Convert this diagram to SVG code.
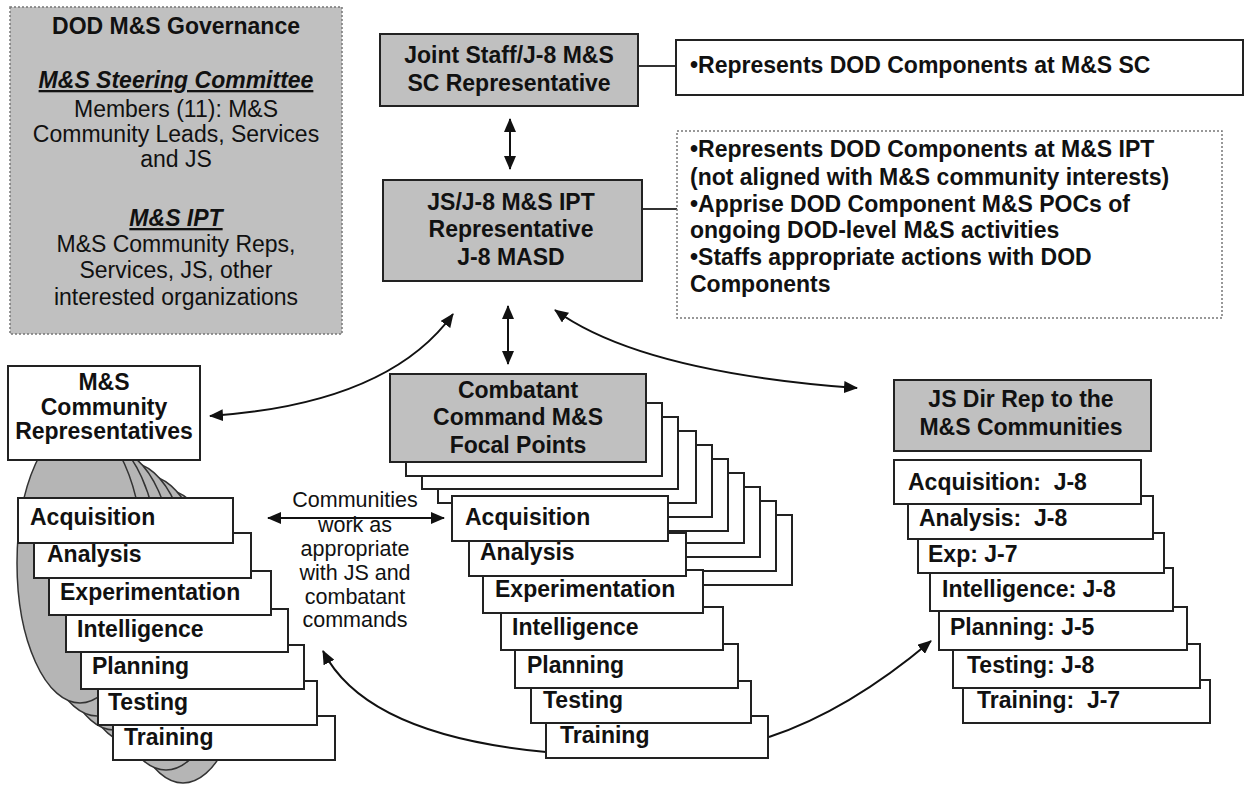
<svg xmlns="http://www.w3.org/2000/svg" width="1250" height="786" viewBox="0 0 1250 786">
<style>
text{font-family:"Liberation Sans",Arial,sans-serif;fill:#111}
.b{font-weight:bold;font-size:23px}
.r{font-size:23px}
.c{font-size:21.5px}
.m{text-anchor:middle}
.box{fill:#fff;stroke:#222;stroke-width:2}
.gbox{fill:#c0c0c0;stroke:#222;stroke-width:2}
.dot{stroke:#777;stroke-width:1.5;stroke-dasharray:2 2}
.ell{fill:#b5b5b5;stroke:#333;stroke-width:1.5}
.con{fill:none;stroke:#111;stroke-width:2}
.ln{fill:none;stroke:#333;stroke-width:2}
</style>
<defs>
<marker id="ah" markerWidth="14" markerHeight="12" refX="13" refY="6" orient="auto-start-reverse" markerUnits="userSpaceOnUse">
<path d="M0,0 L14,6 L0,12 Z" fill="#111"/>
</marker>
</defs>
<rect width="1250" height="786" fill="#fff"/>

<g id="governance">
<rect x="10" y="7" width="332" height="327" fill="#c0c0c0" class="dot"/>
<text class="b m" x="176" y="34">DOD M&amp;S Governance</text>
<text class="b m" x="176" y="88" font-style="italic" text-decoration="underline">M&amp;S Steering Committee</text>
<text class="r m" x="176" y="117">Members (11): M&amp;S</text>
<text class="r m" x="176" y="142">Community Leads, Services</text>
<text class="r m" x="176" y="167">and JS</text>
<text class="b m" x="176" y="226" font-style="italic" text-decoration="underline">M&amp;S IPT</text>
<text class="r m" x="176" y="252">M&amp;S Community Reps,</text>
<text class="r m" x="176" y="278">Services, JS, other</text>
<text class="r m" x="176" y="305">interested organizations</text>
</g>

<g id="connectors">
<line class="ln" x1="638" y1="66" x2="676" y2="66"/>
<line class="ln" x1="642" y1="209" x2="677" y2="209"/>
<line class="con" x1="510" y1="119" x2="510" y2="169" marker-start="url(#ah)" marker-end="url(#ah)"/>
<line class="con" x1="508" y1="306" x2="508" y2="364" marker-start="url(#ah)" marker-end="url(#ah)"/>
<path class="con" d="M210,416 Q388,404 453,314" marker-start="url(#ah)" marker-end="url(#ah)"/>
<path class="con" d="M555,310 Q640,372 857,388" marker-start="url(#ah)" marker-end="url(#ah)"/>
<line class="con" x1="268" y1="518" x2="444" y2="518" marker-start="url(#ah)" marker-end="url(#ah)"/>
<path class="con" d="M546,752 Q366,735 323,651" marker-end="url(#ah)"/>
<path class="con" d="M769,737 Q848,711 931,641" marker-end="url(#ah)"/>
</g>

<g id="sc-rep">
<rect class="gbox" x="380" y="34" width="258" height="72"/>
<text class="b m" x="509" y="63">Joint Staff/J-8 M&amp;S</text>
<text class="b m" x="509" y="91">SC Representative</text>
</g>

<g id="sc-note">
<rect class="box" x="676" y="40" width="567" height="55"/>
<text class="b" x="690" y="73">•Represents DOD Components at M&amp;S SC</text>
</g>

<g id="ipt-rep">
<rect class="gbox" x="383" y="180" width="259" height="101"/>
<text class="b m" x="511" y="210">JS/J-8 M&amp;S IPT</text>
<text class="b m" x="511" y="237">Representative</text>
<text class="b m" x="511" y="265">J-8 MASD</text>
</g>

<g id="ipt-note">
<rect x="677" y="131" width="545" height="187" fill="#fff" class="dot"/>
<text class="b" x="690" y="157">•Represents DOD Components at M&amp;S IPT</text>
<text class="b" x="690" y="185">(not aligned with M&amp;S community interests)</text>
<text class="b" x="690" y="212">•Apprise DOD Component M&amp;S POCs of</text>
<text class="b" x="690" y="238">ongoing DOD-level M&amp;S activities</text>
<text class="b" x="690" y="265">•Staffs appropriate actions with DOD</text>
<text class="b" x="690" y="292">Components</text>
</g>

<g id="community-blob">
<ellipse class="ell" cx="183" cy="643" rx="63" ry="140"/>
<ellipse class="ell" cx="166" cy="630" rx="63" ry="140"/>
<ellipse class="ell" cx="148" cy="616" rx="63" ry="140"/>
<ellipse class="ell" cx="131" cy="603" rx="63" ry="140"/>
<ellipse class="ell" cx="114" cy="590" rx="63" ry="140"/>
<ellipse class="ell" cx="97" cy="576" rx="63" ry="140"/>
<ellipse class="ell" cx="80" cy="563" rx="63" ry="140"/>
</g>

<g id="community-reps">
<rect class="box" x="8" y="366" width="192" height="94"/>
<text class="b m" x="104" y="390" font-size="22">M&amp;S</text>
<text class="b m" x="104" y="415" font-size="22">Community</text>
<text class="b m" x="104" y="439" font-size="22">Representatives</text>
</g>

<g id="left-training"><rect class="box" x="113" y="716" width="222" height="44"/><text class="b" x="124" y="745">Training</text></g>
<g id="left-testing"><rect class="box" x="98" y="681" width="219" height="44"/><text class="b" x="108" y="710">Testing</text></g>
<g id="left-planning"><rect class="box" x="81" y="645" width="223" height="44"/><text class="b" x="92" y="674">Planning</text></g>
<g id="left-intelligence"><rect class="box" x="66" y="609" width="222" height="43"/><text class="b" x="77" y="637">Intelligence</text></g>
<g id="left-experimentation"><rect class="box" x="49" y="571" width="222" height="44"/><text class="b" x="60" y="600">Experimentation</text></g>
<g id="left-analysis"><rect class="box" x="34" y="533" width="217" height="45"/><text class="b" x="47" y="562">Analysis</text></g>
<g id="left-acquisition"><rect class="box" x="18" y="498" width="215" height="45"/><text class="b" x="30" y="525">Acquisition</text></g>

<g id="communities-note">
<text class="c m" x="355" y="507">Communities</text>
<text class="c m" x="355" y="532">work as</text>
<text class="c m" x="355" y="556">appropriate</text>
<text class="c m" x="355" y="580">with JS and</text>
<text class="c m" x="355" y="604">combatant</text>
<text class="c m" x="355" y="627">commands</text>
</g>

<g id="cocom-stack">
<rect class="box" x="534" y="515" width="258" height="70"/>
<rect class="box" x="518" y="501" width="258" height="70"/>
<rect class="box" x="502" y="487" width="258" height="70"/>
<rect class="box" x="486" y="473" width="258" height="70"/>
<rect class="box" x="470" y="459" width="258" height="72"/>
<rect class="box" x="454" y="445" width="258" height="72"/>
<rect class="box" x="438" y="431" width="258" height="72"/>
<rect class="box" x="422" y="417" width="256" height="72"/>
<rect class="box" x="406" y="403" width="256" height="73"/>
</g>
<g id="cocom">
<rect class="gbox" x="390" y="374" width="256" height="88"/>
<text class="b m" x="518" y="398">Combatant</text>
<text class="b m" x="518" y="425">Command M&amp;S</text>
<text class="b m" x="518" y="453">Focal Points</text>
</g>

<g id="mid-training"><rect class="box" x="546" y="716" width="222" height="42"/><text class="b" x="560" y="743">Training</text></g>
<g id="mid-testing"><rect class="box" x="531" y="681" width="220" height="42"/><text class="b" x="543" y="708">Testing</text></g>
<g id="mid-planning"><rect class="box" x="515" y="644" width="223" height="44"/><text class="b" x="527" y="673">Planning</text></g>
<g id="mid-intelligence"><rect class="box" x="501" y="607" width="222" height="43"/><text class="b" x="512" y="635">Intelligence</text></g>
<g id="mid-experimentation"><rect class="box" x="483" y="570" width="220" height="43"/><text class="b" x="495" y="597">Experimentation</text></g>
<g id="mid-analysis"><rect class="box" x="469" y="533" width="217" height="43"/><text class="b" x="480" y="560">Analysis</text></g>
<g id="mid-acquisition"><rect class="box" x="452" y="496" width="216" height="45"/><text class="b" x="465" y="525">Acquisition</text></g>

<g id="js-dir-rep">
<rect class="gbox" x="894" y="380" width="257" height="71"/>
<text class="b m" x="1021" y="407">JS Dir Rep to the</text>
<text class="b m" x="1021" y="435">M&amp;S Communities</text>
</g>

<g id="r-training"><rect class="box" x="963" y="680" width="247" height="43"/><text class="b" x="977" y="708" xml:space="preserve">Training:  J-7</text></g>
<g id="r-testing"><rect class="box" x="953" y="644" width="247" height="44"/><text class="b" x="967" y="673">Testing: J-8</text></g>
<g id="r-planning"><rect class="box" x="939" y="607" width="248" height="43"/><text class="b" x="950" y="635">Planning: J-5</text></g>
<g id="r-intelligence"><rect class="box" x="930" y="568" width="243" height="43"/><text class="b" x="942" y="597">Intelligence: J-8</text></g>
<g id="r-exp"><rect class="box" x="918" y="533" width="246" height="40"/><text class="b" x="928" y="562">Exp: J-7</text></g>
<g id="r-analysis"><rect class="box" x="908" y="496" width="245" height="43"/><text class="b" x="919" y="526" xml:space="preserve">Analysis:  J-8</text></g>
<g id="r-acquisition"><rect class="box" x="894" y="460" width="247" height="44"/><text class="b" x="908" y="490" xml:space="preserve">Acquisition:  J-8</text></g>
</svg>
